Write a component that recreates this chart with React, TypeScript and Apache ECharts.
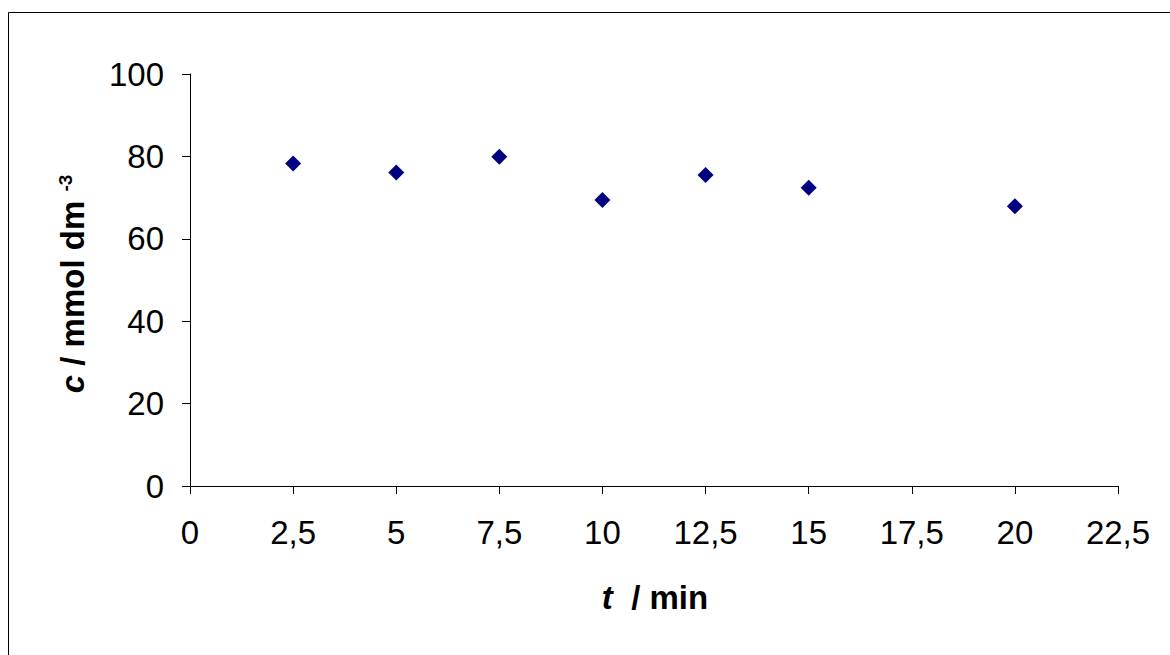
import React, { useEffect, useRef } from "react";
import * as echarts from "echarts";

const times = [2.5, 5, 7.5, 10, 12.5, 15, 20];
const concentrations = [78.3, 76.1, 79.9, 69.4, 75.5, 72.4, 67.9];
const xTicks = [0, 2.5, 5, 7.5, 10, 12.5, 15, 17.5, 20, 22.5];
const yTicks = [0, 20, 40, 60, 80, 100];

const FONT = "'Liberation Sans', Arial, Helvetica, sans-serif";

export default function App() {
  const ref = useRef<HTMLDivElement>(null);
  useEffect(() => {
    if (!ref.current) return;
    const chart = echarts.init(ref.current, null, { renderer: "svg" });
    const fmt = (v: number) => String(v).replace(".", ",");
    chart.setOption({
      animation: false,
      backgroundColor: "#ffffff",
      grid: { left: 190, top: 74, width: 928, height: 412, containLabel: false },
      xAxis: {
        type: "value",
        min: xTicks[0],
        max: xTicks[xTicks.length - 1],
        interval: 2.5,
        axisLine: { show: true, lineStyle: { color: "#000", width: 1 } },
        axisTick: { show: true, inside: false, length: 8, lineStyle: { color: "#000" } },
        splitLine: { show: false },
        axisLabel: {
          formatter: (v: number) => fmt(v),
          fontSize: 33,
          fontFamily: FONT,
          color: "#000",
          margin: 30,
          showMinLabel: true,
          showMaxLabel: true,
        },
      },
      yAxis: {
        type: "value",
        min: yTicks[0],
        max: yTicks[yTicks.length - 1],
        interval: 20,
        axisLine: { show: true, lineStyle: { color: "#000", width: 1 } },
        axisTick: { show: true, inside: false, length: 8, lineStyle: { color: "#000" } },
        splitLine: { show: false },
        axisLabel: {
          fontSize: 33,
          fontFamily: FONT,
          color: "#000",
          margin: 26,
        },
      },
      graphic: [
        {
          type: "rect",
          shape: { x: 8.5, y: 12.5, width: 1200, height: 700 },
          style: { fill: "none", stroke: "#000", lineWidth: 1 },
          silent: true,
          z: -1,
        },
        {
          type: "text",
          x: 655,
          y: 597,
          style: {
            text: "{i|t}{n|  / min}",
            align: "center",
            verticalAlign: "middle",
            rich: {
              i: { fontSize: 33, fontWeight: "bold", fontStyle: "italic", fontFamily: FONT, fill: "#000" },
              n: { fontSize: 33, fontWeight: "bold", fontFamily: FONT, fill: "#000" },
            },
          },
        },
        {
          type: "text",
          x: 72,
          y: 284,
          rotation: Math.PI / 2,
          style: {
            text: "{i|c}{n| / mmol dm }{s|-3}",
            align: "center",
            verticalAlign: "middle",
            rich: {
              i: { fontSize: 33, fontWeight: "bold", fontStyle: "italic", fontFamily: FONT, fill: "#000" },
              n: { fontSize: 33, fontWeight: "bold", fontFamily: FONT, fill: "#000" },
              s: { fontSize: 19, fontWeight: "bold", fontFamily: FONT, fill: "#000", verticalAlign: "top", padding: [0, 0, 14, 0] },
            },
          },
        },
      ],
      series: [
        {
          type: "scatter",
          symbol: "diamond",
          symbolSize: 16,
          itemStyle: { color: "#000080", opacity: 1 },
          data: times.map((t, i) => [t, concentrations[i]]),
        },
      ],
    });
    return () => chart.dispose();
  }, []);
  return (
    <div
      ref={ref}
      style={{ position: "absolute", left: 0, top: 0, width: 1170, height: 655 }}
    />
  );
}
